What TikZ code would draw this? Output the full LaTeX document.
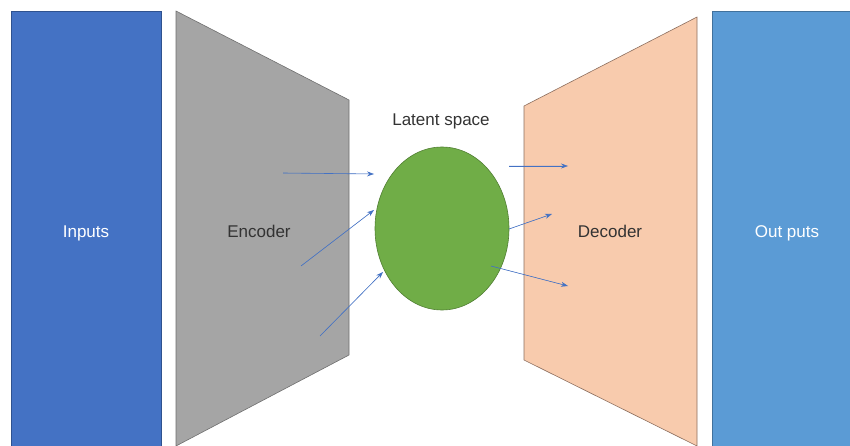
\documentclass[tikz,border=0pt]{standalone}
\usepackage{fontspec}
\setmainfont{Liberation Sans}
\usetikzlibrary{shapes.geometric, arrows.meta}
\definecolor{inblue}{HTML}{4472C4}
\definecolor{inedge}{HTML}{2F528F}
\definecolor{outblue}{HTML}{5B9BD5}
\definecolor{outedge}{HTML}{41719C}
\definecolor{encgray}{HTML}{A5A5A5}
\definecolor{encedge}{HTML}{6F6F6F}
\definecolor{decpeach}{HTML}{F8CBAD}
\definecolor{decedge}{HTML}{8C6E5E}
\definecolor{latgreen}{HTML}{70AD47}
\definecolor{latedge}{HTML}{507E32}
\definecolor{txtgray}{HTML}{333333}
\tikzset{
  lbl/.style={font=\fontsize{17}{20}\selectfont, text=txtgray, anchor=base},
  flow/.style={->, draw=inblue, fill=inblue, line width=0.6pt}
}
\begin{document}
\begin{tikzpicture}[x=1pt, y=-1pt, >={Stealth[length=7pt, width=5pt]}]
    \useasboundingbox (0,0) rectangle (850,446);

    % Inputs and outputs blocks
    \draw[fill=inblue, draw=inedge, line width=0.6pt] (11,11) rectangle (161,446);
    \draw[fill=outblue, draw=outedge, line width=0.6pt] (712,11) rectangle (850,446);

    % Encoder E1-E4
    \coordinate (E1) at (176, 11);
    \coordinate (E2) at (349, 100);
    \coordinate (E3) at (349, 355);
    \coordinate (E4) at (176, 446);
    \draw[fill=encgray, draw=encedge, line width=0.6pt] (E1) -- (E2) -- (E3) -- (E4) -- cycle;

    % Decoder D1-D4
    \coordinate (D1) at (524, 106);
    \coordinate (D2) at (697, 17);
    \coordinate (D3) at (697, 446);
    \coordinate (D4) at (524, 360);
    \draw[fill=decpeach, draw=decedge, line width=0.6pt] (D1) -- (D2) -- (D3) -- (D4) -- cycle;

    % Latent space
    \node[ellipse, draw=latedge, fill=latgreen, line width=0.6pt,
          minimum width=134pt, minimum height=163pt, inner sep=0pt] (latent) at (442, 228.5) {};

    \node[lbl, text=white] (inputs) at (86, 237) {Inputs};
    \node[lbl] (encoder) at (259, 237) {Encoder};
    \node[lbl] (ltext) at (441, 126) {Latent space};
    \node[lbl] (decoder) at (610, 237) {Decoder};
    \node[lbl, text=white] (outputs) at (787, 237) {Out puts};

    % Arrows into the latent space
    \coordinate (a1) at (283, 173);
    \coordinate (b1) at (374, 174);
    \coordinate (a2) at (301, 266);
    \coordinate (b2) at (374, 210);
    \coordinate (a3) at (320, 336);
    \coordinate (b3) at (383, 272);
    \draw[flow] (a1) -- (b1);
    \draw[flow] (a2) -- (b2);
    \draw[flow] (a3) -- (b3);

    % Arrows out of the latent space
    \coordinate (c1) at (509, 166);
    \coordinate (d1) at (568, 166);
    \coordinate (c2) at (509, 229);
    \coordinate (d2) at (552, 214);
    \coordinate (c3) at (491, 266);
    \coordinate (d3) at (568, 286);
    \draw[flow] (c1) -- (d1);
    \draw[flow] (c2) -- (d2);
    \draw[flow] (c3) -- (d3);
\end{tikzpicture}
\end{document}
